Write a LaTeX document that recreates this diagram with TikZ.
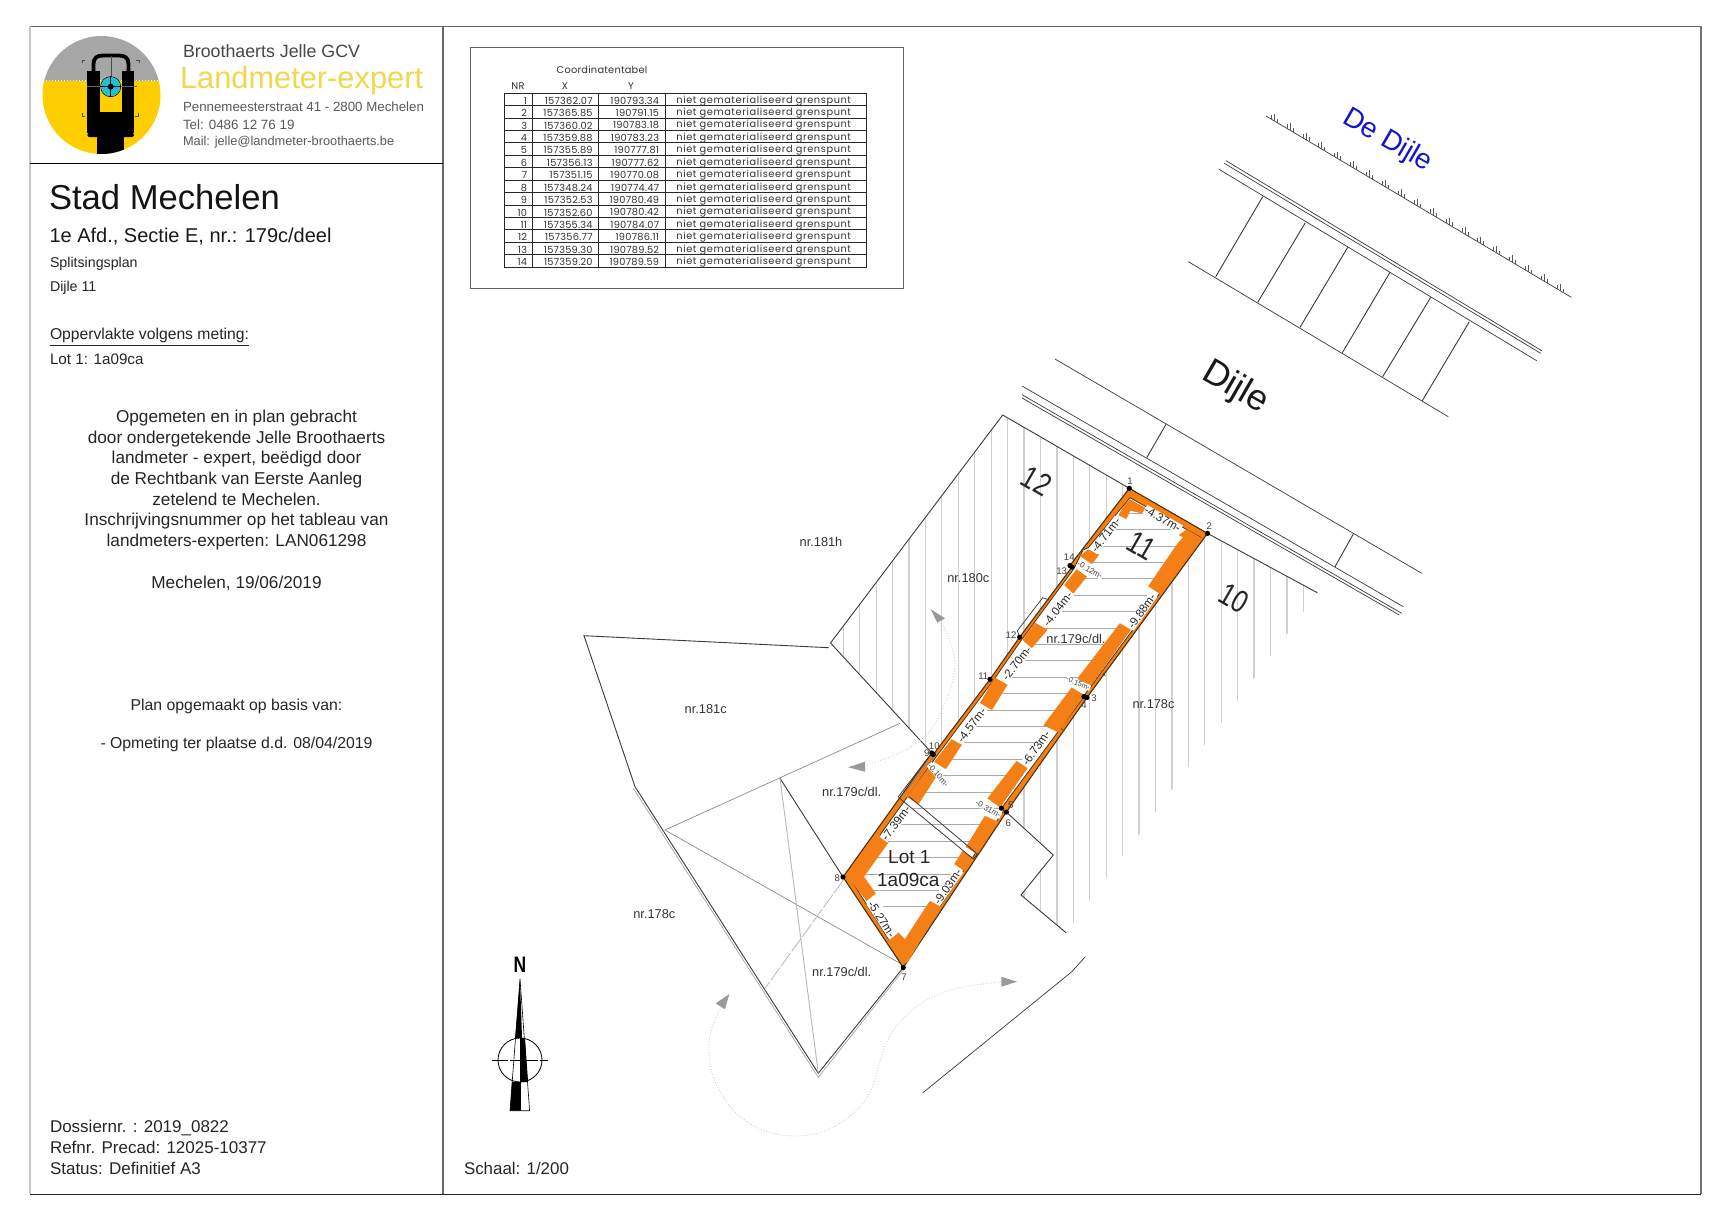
\documentclass[tikz,border=0pt]{standalone}
\usepackage{fontspec}
\setmainfont{Liberation Sans}
\newfontfamily\cadfont[LetterSpace=2.5]{Poppins}
\newfontfamily\cadwide[LetterSpace=6]{Poppins}
\usetikzlibrary{calc}
\definecolor{lineK}{HTML}{3A3A3A}
\definecolor{hatchG}{HTML}{CFCFCF}
\definecolor{horizG}{HTML}{A9A9A9}
\definecolor{orangeB}{HTML}{F57F17}
\definecolor{brownL}{HTML}{4E3210}
\definecolor{arcG}{HTML}{C4C4C4}
\definecolor{headG}{HTML}{9A9A9A}
\definecolor{logoY}{HTML}{FFCE00}
\definecolor{logoG}{HTML}{A6A6A6}
\definecolor{logoC}{HTML}{23BFD6}
\definecolor{titleY}{HTML}{F0D84E}
\definecolor{blueT}{HTML}{1414CC}
\newcommand{\fs}[1]{\fontsize{#1}{#1}\selectfont}
\tikzset{
 x=0.5pt,y=-0.5pt,
 plan/.style={draw=lineK,line width=0.45pt},
 planthin/.style={draw=lineK,line width=0.35pt},
 txt/.style={inner sep=0pt,outer sep=0pt,text=black!85},
 ltxt/.style={txt,anchor=base west},
 ctxt/.style={txt,anchor=base,font=\fs{8.6}},
 parcel/.style={txt,font=\fs{6.4},text=black!80},
 dim/.style={inner sep=0.3pt,fill=white,font=\fs{5.8},text=black!85},
 dimsmall/.style={inner sep=0.2pt,fill=white,font=\fs{4},text=black!75},
 ptlabel/.style={inner sep=0pt,font=\fs{4.8},text=black!75},
 ptdot/.style={circle,fill=black,inner sep=0pt,minimum size=2.6pt},
 hugeno/.style={inner sep=0pt,font=\fs{15},text=black!85,rotate=-30,xscale=0.85,yscale=1.05},
 band/.style={fill=orangeB,draw=orangeB,line width=0.6pt},
 cad/.style={inner sep=0pt,font=\cadfont\fs{4.9},text=black!80},
 cadw/.style={inner sep=0pt,font=\cadwide\fs{4.9},text=black!80},
}
\begin{document}
\begin{tikzpicture}
\useasboundingbox (0,0) rectangle (1732,1220);
\fill[white] (0,0) rectangle (1732,1220);

% ------- frame
\draw[draw=black!60,line width=0.4pt] (30,26) -- (1701,26);
\draw[draw=black!22,line width=0.8pt] (30,26) -- (30,1194);
\draw[draw=black!60,line width=0.7pt] (443,26) -- (443,1194);
\draw[draw=black!85,line width=0.5pt] (30,1194.5) -- (1701,1194.5);
\draw[draw=black!55,line width=0.6pt] (1701,26) -- (1701,1194);
\draw[draw=black,line width=0.4pt] (30,163) -- (443,163);

% ------- logo
\begin{scope}
\clip (101.5,95) circle (59);
\fill[logoY] (40,81) rectangle (165,160);
\fill[logoG] (40,30) rectangle (165,81);
\draw[white,line width=0.5pt,densely dotted] (40,81) -- (165,81);
\draw[black,line width=1.9pt] (93.5,71) -- (93.5,64) .. controls (93.5,58) and (97,55.5) .. (103,55.5) -- (119,55.5) .. controls (125,55.5) and (128.5,58) .. (128.5,64) -- (128.5,71);
\draw[black!70,line width=0.2pt] (110.7,56) -- (110.7,78);
\fill[black] (87.3,70.7) rectangle (100,133);
\fill[black] (121.7,70.7) rectangle (134,133);
\fill[black] (87.3,112) rectangle (134,133);
\fill[black,rounded corners=1pt] (87.3,133) rectangle (134,137);
\fill[black] (97,137) -- (124,137) -- (124,156) -- (97,156) -- cycle;
\draw[black!60,line width=0.2pt] (87,86.7) -- (137,86.7);
\draw[black,line width=0.35pt] (110.7,86.7) circle (10);
\fill[logoC] (110.7,86.7) circle (9.6);
\draw[black,line width=0.3pt] (100,86.7) -- (121,86.7) (110.7,76) -- (110.7,97);
\fill[black] (110.7,86.7) circle (3);
\draw[black!70,line width=0.25pt] (82,63) -- (82,60) -- (85,60) (139,63) -- (139,60) -- (136,60) (82,113) -- (82,116) -- (85,116) (138,113) -- (138,116) -- (135,116);
\end{scope}

\node[ltxt,font=\fs{8.9},text=black!72] (firm) at (183,58) {Broothaerts Jelle GCV};
\node[ltxt,font=\fs{15.4},text=titleY] (lme) at (180,89) {Landmeter-expert};
\node[ltxt,font=\fs{6.65},text=black!65] (addr) at (183,112) {Pennemeesterstraat 41 - 2800 Mechelen};
\node[ltxt,font=\fs{6.7},text=black!65] (tel) at (183,129) {Tel: 0486 12 76 19};
\node[ltxt,font=\fs{6.4},text=black!65] (mail) at (183,145) {Mail: jelle@landmeter-broothaerts.be};

\node[ltxt,font=\fs{17.3},text=black!92] (stad) at (49,209.5) {Stad Mechelen};
\node[ltxt,font=\fs{10},text=black!90] (afd) at (49.5,242) {1e Afd., Sectie E, nr.: 179c/deel};
\node[ltxt,font=\fs{7.1}] (spl) at (50,267) {Splitsingsplan};
\node[ltxt,font=\fs{7.1}] (dij) at (50,291) {Dijle 11};
\node[ltxt,font=\fs{7.85}] (opp) at (50,339) {\underline{Oppervlakte volgens meting:}};
\node[ltxt,font=\fs{7.6}] (lot) at (50,364) {Lot 1: 1a09ca};

\node[ctxt] (c1) at (236.5,422) {Opgemeten en in plan gebracht};
\node[ctxt] (c2) at (236.5,443) {door ondergetekende Jelle Broothaerts};
\node[ctxt] (c3) at (236.5,463) {landmeter - expert, beëdigd door};
\node[ctxt] (c4) at (236.5,484) {de Rechtbank van Eerste Aanleg};
\node[ctxt] (c5) at (236.5,505) {zetelend te Mechelen.};
\node[ctxt] (c6) at (236.5,525) {Inschrijvingsnummer op het tableau van};
\node[ctxt] (c7) at (236.5,546) {landmeters-experten: LAN061298};
\node[ctxt] (c8) at (236.5,588) {Mechelen, 19/06/2019};
\node[ctxt,font=\fs{7.9}] (c9) at (236.5,710) {Plan opgemaakt op basis van:};
\node[ctxt,font=\fs{7.9}] (c10) at (236.5,748) {- Opmeting ter plaatse d.d. 08/04/2019};

\node[ltxt,font=\fs{8.5}] (dos) at (50,1132) {Dossiernr. : 2019\_0822};
\node[ltxt,font=\fs{8.5}] (ref) at (50,1153) {Refnr. Precad: 12025-10377};
\node[ltxt,font=\fs{8.5}] (sta) at (50,1174) {Status: Definitief A3};
\node[ltxt,font=\fs{8.45}] (sch) at (464,1174) {Schaal: 1/200};

% ------- coordinate table
\draw[draw=black!60,line width=0.5pt] (470,48) rectangle (903,288);
\node[cad] (tt) at (602,69.5) {Coordinatentabel};
\node[cad] (hn) at (518,86) {NR};
\node[cad] (hx) at (565,86) {X};
\node[cad] (hy) at (631,86) {Y};
\draw[draw=black!85,line width=0.4pt] (504,93) rectangle (866,267);
\foreach \xl in {532,598,665} \draw[draw=black!85,line width=0.35pt] (\xl,93) -- (\xl,267);
\foreach \yl in {1,...,13} \draw[draw=black!85,line width=0.35pt] (504,{93+\yl*12.43}) -- (866,{93+\yl*12.43});
\foreach \nr/\cx/\cy [count=\i from 0] in {
 1/157362.07/190793.34,2/157365.85/190791.15,3/157360.02/190783.18,4/157359.88/190783.23,
 5/157355.89/190777.81,6/157356.13/190777.62,7/157351.15/190770.08,8/157348.24/190774.47,
 9/157352.53/190780.49,10/157352.60/190780.42,11/157355.34/190784.07,12/157356.77/190786.11,
 13/157359.30/190789.52,14/157359.20/190789.59}{
 \node[cad,anchor=east] at (527.5,{100.6+\i*12.43}) {\nr};
 \node[cad,anchor=east] at (593,{100.6+\i*12.43}) {\cx};
 \node[cad,anchor=east] at (659.5,{100.6+\i*12.43}) {\cy};
 \node[cadw,anchor=west] at (676,{100.6+\i*12.43}) {niet gematerialiseerd grenspunt};
}

% ------- named survey points
\coordinate (p1) at (1129.3,488.3);
\coordinate (p2) at (1207.5,533.4);
\coordinate (p3) at (1086.9,697.6);
\coordinate (p4) at (1084,696.6);
\coordinate (p5) at (1001.4,808.2);
\coordinate (p6) at (1006.3,812.1);
\coordinate (p7) at (903.3,967.5);
\coordinate (p8) at (843,877);
\coordinate (p9) at (931.8,753);
\coordinate (p10) at (933.3,754.5);
\coordinate (p11) at (990,679.3);
\coordinate (p12) at (1019.6,637.2);
\coordinate (p13) at (1072,567);
\coordinate (p14) at (1069.9,565.6);
\coordinate (apex) at (1002.7,415);
\coordinate (west) at (830.5,643);
\coordinate (east) at (1317.3,592.7);

% ------- vertical hatch
\begin{scope}
\clip (apex) -- (p1) -- (p2) -- (east) -- (1312,600) -- (1073,923.5) -- (1066,932.7) -- (1021,895) -- (1053.3,855) -- (p6) -- (p10) -- (west) -- cycle;
\foreach \k in {0,...,28} \draw[hatchG,line width=0.6pt] ({843.3+\k*16.43},400) -- ({843.3+\k*16.43},960);
\end{scope}

% ------- plan lines
\draw[plan] (west) -- (apex) -- (p1);
\draw[plan] (west) -- (p10);
\draw[plan] (p2) -- (east);
\draw[plan] (828.7,647.7) -- (584,635.7) -- (635,786.7) -- (818.3,1073.3) -- (p7);
\draw[draw=black!35,line width=0.35pt] (633.3,788.3) -- (818.3,1077.3) -- (903.3,970);
\draw[plan] (780,778.3) -- (p8);
\draw[draw=black!45,line width=0.35pt] (900,723.3) -- (665,830) -- (903,965);
\draw[draw=black!28,line width=0.45pt] (780,778.3) -- (818.3,1073.3);
\draw[draw=black!28,line width=0.4pt,dash pattern=on 8pt off 1pt] (843.3,880) -- (765,988.3);
\draw[plan] (p6) -- (1053.3,855) -- (1021,895) -- (1066,932.7);
\draw[planthin] (922.9,1092.7) -- (1071.8,971.7) -- (1085.3,956.7);

% ------- curved arrows
\draw[arcG,line width=0.4pt,densely dotted] plot[smooth,tension=0.6] coordinates {(723.7,1001.9) (712,1028) (709,1050) (714,1079) (734,1111) (763,1130) (795,1136) (827,1130) (856,1111) (871,1090) (877,1072) (885,1046) (899,1023) (925,1001) (958,988) (1002,981.7)};
\fill[headG] (729.3,994) -- (715.7,1003.3) -- (725,1009.3) -- cycle;
\fill[headG] (1017,981.7) -- (1001.3,976.7) -- (1001.3,986.7) -- cycle;
\draw[arcG,line width=0.4pt,densely dotted] plot[smooth,tension=0.7] coordinates {(941.7,623) (955,663.3) (941.7,710) (916.7,743.3) (866.7,765)};
\fill[headG] (930.7,609.3) -- (945,618.3) -- (937.3,622.7) -- cycle;
\fill[headG] (848.3,767.3) -- (865,761.7) -- (865,771.7) -- cycle;

% ------- lot
\fill[orangeB] (p1) -- (p2) -- (p3) -- (p6) -- (p7) -- (p8) -- (p9) -- (p10) -- (p11) -- (p12) -- (p13) -- (p14) -- cycle;
\filldraw[fill=white,draw=brownL,line width=0.4pt]
 (1130,497.7) -- (1201,537.5) -- (1084.5,695) -- (p4) -- (p5) -- (1003.8,810.4) -- (903,962) -- (849.5,877.5) -- (936,757) -- (992.5,681.5) -- (1022,639.2) -- (1074,568.5) -- (1083,550) -- (1088.3,547.7) -- cycle;
\draw[draw=brownL,line width=0.55pt] (p1) -- (p2) -- (p3) -- (p6) -- (p7) -- (p8) -- (p9) -- (p10) -- (p11) -- (p12) -- (p13) -- (p14) -- cycle;
\draw[draw=brownL,line width=0.35pt] (1103.3,673) -- +(2,3) (1060.5,727) -- +(2,3);

% horizontal hatch inside the lot
\begin{scope}
\clip (1128,505) -- (1192,537) -- (905,942) -- (875,893) -- (863,877) -- (1124,518) -- cycle;
\foreach \k in {0,...,24} \draw[horizG,line width=0.5pt] (840,{513.3+\k*16.4}) -- (1210,{513.3+\k*16.4});
\end{scope}

% interrupted orange band
\filldraw[band] (1130,500) -- (1145,508.3) -- (1141.7,512.7) -- (1130,510) -- (1126,518.3) -- (1119.3,515) -- (1123.3,507.3) -- cycle;
\filldraw[band] (1186.7,530) -- (1200.7,538.3) -- (1160,593.3) -- (1149,586) -- (1178.3,543.3) -- (1184,537.3) -- (1180,535) -- cycle;
\filldraw[band] (1120,624) -- (1130,630) -- (1088.3,688.3) -- (1078.3,678.3) -- cycle;
\filldraw[band] (1071.7,688.3) -- (1083.3,695) -- (1058.3,731.7) -- (1044.3,725) -- cycle;
\filldraw[band] (1016.7,761.7) -- (1026.7,768.3) -- (1000,806.7) -- (988.3,798.3) -- cycle;
\filldraw[band] (985,816.7) -- (996.7,821.7) -- (976.7,853.3) -- (966.7,846.7) -- cycle;
\filldraw[band] (962.7,851.7) -- (973.3,858.3) -- (964,870) -- (955,864) -- cycle;
\filldraw[band] (930,901.7) -- (940,906.7) -- (907.3,961.7) -- (903.3,963) -- (888.3,941.7) -- (898.3,933.3) -- (905,940) -- cycle;
\filldraw[band] (878.3,835) -- (888.3,841.7) -- (863.3,876.7) -- (875,893.3) -- (866.7,900) -- (848,877) -- cycle;
\filldraw[band] (928.3,769.3) -- (936.7,775) -- (918.3,803.3) -- (907.3,796.7) -- cycle;
\filldraw[band] (951.7,740) -- (961,745) -- (945.7,768.3) -- (935,761.7) -- cycle;
\filldraw[band] (995,678.3) -- (1006.7,685) -- (991.7,709.3) -- (980.7,702.7) -- cycle;
\filldraw[band] (1035,623.3) -- (1046.7,630) -- (1031.7,647.3) -- (1023.3,640) -- cycle;
\filldraw[band] (1076.7,570) -- (1086,576.7) -- (1073.3,592.7) -- (1065,585) -- cycle;
\filldraw[band] (1088.3,550) -- (1098.3,555) -- (1091.7,563.3) -- (1080.7,556) -- cycle;

% cross strip and jogs
\draw[draw=lineK,line width=0.4pt] (909.3,796.7) -- (977.3,854) -- (973.3,859) -- (901.7,800) -- (898.3,796.7) -- (p9);
\draw[draw=black!50,line width=0.3pt] (901.5,796.5) -- (934.5,756);
\draw[draw=lineK,line width=0.35pt] (p12) -- (1017.3,630.7) -- (1042.7,597.7) -- (1049.3,600);

% ------- dimension labels
\node[dim,rotate=-30] (d1) at (1162.7,519.3) {-4.37m-};
\node[dim,rotate=52] (d2) at (1105.7,535) {-4.71m-};
\node[dimsmall,rotate=-30] (d3) at (1090,570) {-0.12m-};
\node[dim,rotate=52] (d4) at (1057.7,609) {-4.04m-};
\node[dim,rotate=55] (d5) at (1141.7,611) {-9.88m-};
\node[dim,rotate=52] (d6) at (1016.7,663.3) {-2.70m-};
\node[dimsmall,rotate=-22,font=\fs{3.6}] (d7) at (1078.3,683.3) {-0.15m-};
\node[dim,rotate=55] (d8) at (1036,748.3) {-6.73m-};
\node[dim,rotate=53] (d9) at (971.7,725) {-4.57m-};
\node[dimsmall,rotate=-50] (d10) at (938.3,775) {-0.10m-};
\node[dimsmall,rotate=-30] (d11) at (988.3,809) {-0.31m-};
\node[dim,rotate=53] (d12) at (896,823.3) {-7.39m-};
\node[dim,rotate=55] (d13) at (947.7,886.7) {-9.03m-};
\node[dim,rotate=-57] (d14) at (881.7,919.3) {-5.27m-};

% ------- points and their numbers
\foreach \p in {1,2,3,4,5,6,7,8,9,10,11,12,13,14} \node[ptdot] at (p\p) {};
\node[ptlabel] (n1) at (1130,481) {1};
\node[ptlabel] (n2) at (1209.3,526) {2};
\node[ptlabel] (n3) at (1094,698.3) {3};
\node[ptlabel] (n4) at (1084,705) {4};
\node[ptlabel] (n5) at (1010.7,805) {5};
\node[ptlabel] (n6) at (1008.3,823.3) {6};
\node[ptlabel] (n7) at (904,976.7) {7};
\node[ptlabel] (n8) at (837.3,878.3) {8};
\node[ptlabel] (n9) at (926.7,753.3) {9};
\node[ptlabel] (n10) at (934.3,746) {10};
\node[ptlabel] (n11) at (983.3,675.7) {11};
\node[ptlabel] (n12) at (1011,635) {12};
\node[ptlabel] (n13) at (1061.7,570.7) {13};
\node[ptlabel] (n14) at (1069.3,556.7) {14};

% ------- parcel labels
\node[parcel] (l181h) at (821,542) {nr.181h};
\node[parcel] (l180c) at (968.3,578) {nr.180c};
\node[parcel] (l181c) at (705.7,709) {nr.181c};
\node[parcel] (l179a) at (1076,639) {nr.179c/dl.};
\node[parcel] (l178a) at (1153.5,704) {nr.178c};
\node[parcel] (l179b) at (851.7,791.7) {nr.179c/dl.};
\node[parcel] (l178b) at (654.3,914) {nr.178c};
\node[parcel] (l179c) at (841.7,971.7) {nr.179c/dl.};
\node[txt,font=\fs{9.5}] (lot1) at (909.3,857.3) {Lot 1};
\node[txt,font=\fs{9.5}] (lot2) at (908.3,880) {1a09ca};
\node[hugeno] (h12) at (1036.7,481) {12};
\node[hugeno] (h11) at (1141.7,546) {11};
\node[hugeno] (h10) at (1234.3,598.3) {10};

% ------- road / water
\draw[planthin] (1022,386) -- (1403.3,606.7);
\draw[planthin] (1022,394.7) -- (1401.7,613.3);
\draw[planthin] (1022,398) -- (1399.3,615);
\draw[planthin] (1055,359) -- (1421.7,573.3);
\draw[plan] (1166,424.3) -- (1146.7,457.7);
\draw[plan] (1353.3,534) -- (1335,566.7);

\draw[planthin] (1226,160.7) -- (1541.7,350.7);
\draw[planthin] (1224.3,163.3) -- (1540.7,353.3);
\draw[planthin] (1219,169.3) -- (1536.7,360.7);
\draw[planthin] (1188.3,261.7) -- (1448.3,416.7);
\draw[plan] (1262.7,196.7) -- (1215.7,276.7);
\draw[plan] (1305.3,222.7) -- (1257.7,302.3);
\draw[plan] (1347.7,247.3) -- (1300,327.3);
\draw[plan] (1390,272.3) -- (1342.3,352.7);
\draw[plan] (1430.7,297.3) -- (1382.7,376.7);
\draw[plan] (1469.3,321.7) -- (1422.3,400.7);

\draw[planthin] (1266,116) -- (1571.3,297.3);
\foreach \k in {0,...,18}{
 \pgfmathsetmacro{\tx}{1274+\k*15.9}
 \pgfmathsetmacro{\ty}{116+(\tx-1266)*0.594}
 \draw[draw=black!65,line width=0.3pt] (\tx,\ty) -- +(0,-7) (\tx-3,\ty-1.8) -- +(0,-4) (\tx+3,\ty+1.8) -- +(0,-4);
}
\node[inner sep=0pt,font=\fs{14},text=blueT,rotate=-30] (dedijle) at (1387.5,141) {De Dijle};
\node[inner sep=0pt,font=\fs{18},text=black!90,rotate=-30] (dijle) at (1235,388) {Dijle};

% ------- north arrow
\node[inner sep=0pt,font=\fs{11.2}\bfseries,xscale=0.78] (north) at (520,965) {N};
\draw[black,line width=0.4pt] (520,1060) circle (22);
\fill[black] (520,979) -- (515.2,1038) -- (522,1038) -- cycle;
\fill[black] (520,1038) -- (525,1038) -- (528,1082) -- (520,1082) -- cycle;
\fill[black] (512,1082) -- (520,1082) -- (520,1110.7) -- (510,1110.7) -- cycle;
\draw[black,line width=0.3pt] (520,979) -- (529.6,1110.7) -- (510,1110.7) -- (520,979);
\draw[black,line width=0.3pt] (520,1082) -- (520,1110.7);
\draw[black,line width=0.4pt,dash pattern=on 8pt off 1pt on 5pt off 1pt] (491.6,1060) -- (548,1060);
\end{tikzpicture}
\end{document}
